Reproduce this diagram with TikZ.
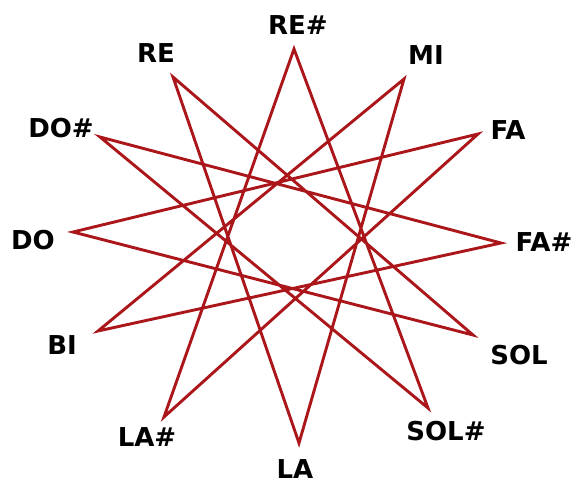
\documentclass[tikz,border=0pt]{standalone}
\usepackage{fontspec}
\setmainfont{DejaVu Sans}
\usepackage{xcolor}
\definecolor{starred}{RGB}{170,22,26}

\begin{document}
\begin{tikzpicture}[x=1pt, y=-1pt,
    % Star lines: dark red, slightly thick
    star line/.style={color=starred, line width=2.9pt, line join=miter},
    % Note names
    note/.style={font=\fontsize{26}{30}\selectfont\bfseries, text=black, inner sep=0pt}
  ]
  \useasboundingbox (0,0) rectangle (576,485);

  % --- Tips of the star (image coordinates) ---
  \coordinate (p0)  at (294, 49);   % RE#
  \coordinate (p1)  at (404, 79);   % MI
  \coordinate (p2)  at (478,134);   % FA
  \coordinate (p3)  at (501,243);   % FA#
  \coordinate (p4)  at (473,335);   % SOL
  \coordinate (p5)  at (428,408);   % SOL#
  \coordinate (p6)  at (299,443);   % LA
  \coordinate (p7)  at (164,417);   % LA#
  \coordinate (p8)  at ( 98,331);   % BI
  \coordinate (p9)  at ( 73,232);   % DO
  \coordinate (p10) at (100,137);   % DO#
  \coordinate (p11) at (173, 77);   % RE

  % --- Labels ---
  \node[note] (reS)  at (298, 25) {RE\#};
  \node[note] (mi)   at (426, 55) {MI};
  \node[note] (fa)   at (508,130) {FA};
  \node[note] (faS)  at (544,242) {FA\#};
  \node[note] (sol)  at (519,355) {SOL};
  \node[note] (solS) at (446,431) {SOL\#};
  \node[note] (la)   at (295,469) {LA};
  \node[note] (laS)  at (147,437) {LA\#};
  \node[note] (bi)   at ( 62,345) {BI};
  \node[note] (do)   at ( 33,240) {DO};
  \node[note] (doS)  at ( 61,128) {DO\#};
  \node[note] (re)   at (156, 53) {RE};

  % --- Star {12/5}: every tip joined to the fifth one along ---
  \draw[star line] (p0) -- (p5) -- (p10) -- (p3) -- (p8) -- (p1) -- (p6)
      -- (p11) -- (p4) -- (p9) -- (p2) -- (p7) -- cycle;
\end{tikzpicture}
\end{document}
